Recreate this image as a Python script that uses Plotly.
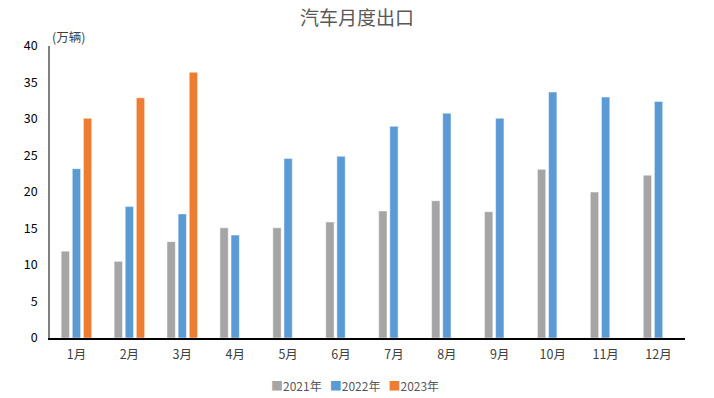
import plotly.graph_objects as go

months = ["1月", "2月", "3月", "4月", "5月", "6月", "7月", "8月", "9月", "10月", "11月", "12月"]
y2021 = [11.9, 10.5, 13.2, 15.1, 15.1, 15.9, 17.4, 18.8, 17.3, 23.1, 20.0, 22.3]
y2022 = [23.2, 18.0, 17.0, 14.1, 24.6, 24.9, 29.0, 30.8, 30.1, 33.7, 33.0, 32.4]
y2023 = [30.1, 32.9, 36.4, None, None, None, None, None, None, None, None, None]
series_names = ["2021年", "2022年", "2023年"]
colors = ["#A5A5A5", "#5B9BD5", "#ED7D31"]
y_ticks = [0, 5, 10, 15, 20, 25, 30, 35, 40]

font_family = "Noto Sans CJK SC, DejaVu Sans, sans-serif"

fig = go.Figure()
for name, vals, c in zip(series_names, [y2021, y2022, y2023], colors):
    fig.add_trace(go.Bar(
        x=months, y=vals, name=name, showlegend=False,
        marker=dict(color=c, line=dict(color="rgba(255,255,255,0.6)", width=0.8)),
    ))

legend_text = "&nbsp;&nbsp;&nbsp;".join(
    f"<span style='color:{c}'>■</span>{n}" for n, c in zip(series_names, colors)
)

fig.update_layout(
    width=714, height=398,
    paper_bgcolor="white", plot_bgcolor="white",
    margin=dict(l=50, r=29, t=46, b=60, autoexpand=False),
    barmode="group", bargap=0.37, bargroupgap=0.25,
    font=dict(family=font_family, size=12, color="#404040"),
    title=dict(text="汽车月度出口", x=0.5, xanchor="center", y=0.955, yanchor="middle",
               font=dict(size=19, color="#595959", family=font_family)),
    xaxis=dict(showline=True, linecolor="#000000", linewidth=1.5, ticks="",
               showgrid=False, tickfont=dict(size=12.5, color="#404040"), automargin=False,
               ticklabelstandoff=4),
    yaxis=dict(range=[0, 40], tickvals=y_ticks, showline=True, linecolor="#808080",
               linewidth=1.5, showgrid=False, zeroline=False, ticks="", automargin=False,
               tickfont=dict(size=12.5, color="#000000"), ticklabelstandoff=8),
    annotations=[
        dict(text="(万辆)", xref="paper", yref="paper", x=0, y=1.0,
             xanchor="left", yanchor="bottom", showarrow=False,
             font=dict(size=12.5, color="#404040"), yshift=-2),
        dict(text=legend_text, xref="paper", yref="paper", x=0.48, y=-0.164,
             xanchor="center", yanchor="middle", showarrow=False,
             font=dict(size=12, color="#595959")),
    ],
)

fig.write_html("out.html", config={"displayModeBar": False},
               post_script="document.body.style.margin='0';document.body.style.overflow='hidden';")
